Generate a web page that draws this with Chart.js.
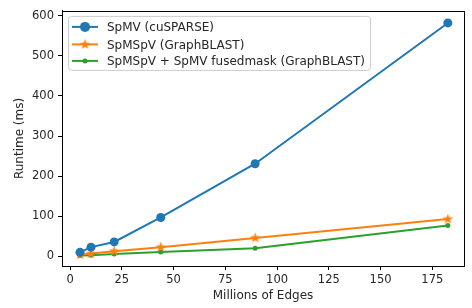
<!DOCTYPE html>
<html>
<head>
<meta charset="utf-8">
<script src="https://cdn.jsdelivr.net/npm/chart.js"></script>
<style>
  html, body { margin: 0; padding: 0; background: #fff; }
  #wrap { width: 472px; height: 308px; }
</style>
</head>
<body>
<div id="wrap"><canvas id="runtimeChart" width="472" height="308"></canvas></div>
<script>
// data
const edges = [4.8, 10.1, 21.3, 43.8, 89.4, 182.5];
const spmvCusparse = [10, 23, 36, 97, 231, 582];
const spmspvGraphblast = [4, 7, 13, 23, 46, 93];
const fusedMask = [2, 3, 6, 11, 20, 77];
const xTicks = [0, 25, 50, 75, 100, 125, 150, 175];
const yTicks = [0, 100, 200, 300, 400, 500, 600];

const seriesLabels = ['SpMV (cuSPARSE)', 'SpMSpV (GraphBLAST)', 'SpMSpV + SpMV fusedmask (GraphBLAST)'];
const colors = ['#1f77b4', '#ff7f0e', '#2ca02c'];
const FONT = 'DejaVu Sans';
const TXT = '#262626';

// filled star marker like matplotlib '*'
function makeStar(color, r) {
    const c = document.createElement('canvas');
    const s = Math.ceil(r * 2 + 2);
    c.width = s; c.height = s;
    const g = c.getContext('2d');
    g.fillStyle = color;
    g.beginPath();
    for (let i = 0; i < 10; i++) {
        const rad = i % 2 === 0 ? r : r * 0.42;
        const a = -Math.PI / 2 + i * Math.PI / 5;
        const px = s / 2 + rad * Math.cos(a), py = s / 2 + rad * Math.sin(a);
        if (i === 0) g.moveTo(px, py); else g.lineTo(px, py);
    }
    g.closePath();
    g.fill();
    return c;
}
const starImg = makeStar(colors[1], 5.5);

function toPoints(ys) {
    return edges.map((x, i) => ({ x: x, y: ys[i] }));
}

// box around plot area + legend inside top-left
const framePlugin = {
    id: 'frame',
    afterDraw(chart) {
        const ctx = chart.ctx;
        const a = chart.chartArea;
        ctx.save();
        ctx.strokeStyle = '#000';
        ctx.lineWidth = 1;
        ctx.strokeRect(Math.round(a.left) + 0.5, Math.round(a.top) + 0.5,
            Math.round(a.right - a.left), Math.round(a.bottom - a.top));

        // legend
        const lx = a.left + 6, ly = a.top + 5;
        const w = 302, h = 54;
        ctx.fillStyle = 'rgba(255,255,255,0.8)';
        ctx.strokeStyle = '#ccc';
        ctx.beginPath();
        ctx.roundRect(lx + 0.5, ly + 0.5, w, h, 3);
        ctx.fill();
        ctx.stroke();
        ctx.font = '12px ' + FONT;
        ctx.textBaseline = 'middle';
        const rows = [ly + 11, ly + 28.5, ly + 45];
        for (let i = 0; i < 3; i++) {
            const y = rows[i];
            ctx.strokeStyle = colors[i];
            ctx.lineWidth = 2;
            ctx.beginPath();
            ctx.moveTo(lx + 4, y);
            ctx.lineTo(lx + 30, y);
            ctx.stroke();
            const cx = lx + 17;
            if (i === 0) {
                ctx.fillStyle = colors[0];
                ctx.beginPath(); ctx.arc(cx, y, 5, 0, Math.PI * 2); ctx.fill();
            } else if (i === 1) {
                ctx.drawImage(starImg, cx - starImg.width / 2, y - starImg.height / 2);
            } else {
                ctx.fillStyle = colors[2];
                ctx.beginPath(); ctx.arc(cx, y, 2.5, 0, Math.PI * 2); ctx.fill();
            }
            ctx.fillStyle = TXT;
            ctx.fillText(seriesLabels[i], lx + 39, y + 1);
        }
        ctx.restore();
    }
};

document.addEventListener('DOMContentLoaded', function() {
    const ctx = document.getElementById('runtimeChart').getContext('2d');
    new Chart(ctx, {
        type: 'line',
        data: {
            datasets: [{
                label: seriesLabels[0],
                data: toPoints(spmvCusparse),
                borderColor: colors[0],
                backgroundColor: colors[0],
                borderWidth: 2,
                pointRadius: 4.5,
                pointStyle: 'circle',
                pointBorderWidth: 0
            }, {
                label: seriesLabels[1],
                data: toPoints(spmspvGraphblast),
                borderColor: colors[1],
                backgroundColor: colors[1],
                borderWidth: 2,
                pointStyle: starImg,
                pointRadius: 5
            }, {
                label: seriesLabels[2],
                data: toPoints(fusedMask),
                borderColor: colors[2],
                backgroundColor: colors[2],
                borderWidth: 2,
                pointRadius: 2.5,
                pointBorderWidth: 0
            }]
        },
        options: {
            responsive: false,
            animation: false,
            layout: { padding: { left: 0, top: 5, right: 8, bottom: 0 } },
            plugins: {
                legend: { display: false },
                tooltip: { enabled: false }
            },
            scales: {
                x: {
                    type: 'linear',
                    min: -3.9,
                    max: 190.3,
                    afterBuildTicks: s => { s.ticks = xTicks.map(v => ({ value: v })); },
                    afterFit: s => { s.height = 42; },
                    grid: { drawOnChartArea: false, tickLength: 4, color: '#000', tickColor: '#000' },
                    border: { color: '#000' },
                    ticks: { color: TXT, font: { family: FONT, size: 11.5 }, padding: 3, maxRotation: 0 },
                    title: { display: true, text: 'Millions of Edges', color: TXT, font: { family: FONT, size: 12 }, padding: { top: 0, bottom: 5 } }
                },
                y: {
                    min: -24,
                    max: 612,
                    afterBuildTicks: s => { s.ticks = yTicks.map(v => ({ value: v })); },
                    afterFit: s => { s.width = 62; },
                    grid: { drawOnChartArea: false, tickLength: 4, color: '#000', tickColor: '#000' },
                    border: { color: '#000' },
                    ticks: { color: TXT, font: { family: FONT, size: 11.5 }, padding: 4 },
                    title: { display: true, text: 'Runtime (ms)', color: TXT, font: { family: FONT, size: 12 }, padding: { top: 13, bottom: 0 } }
                }
            }
        },
        plugins: [framePlugin]
    });
});
</script>
</body>
</html>
